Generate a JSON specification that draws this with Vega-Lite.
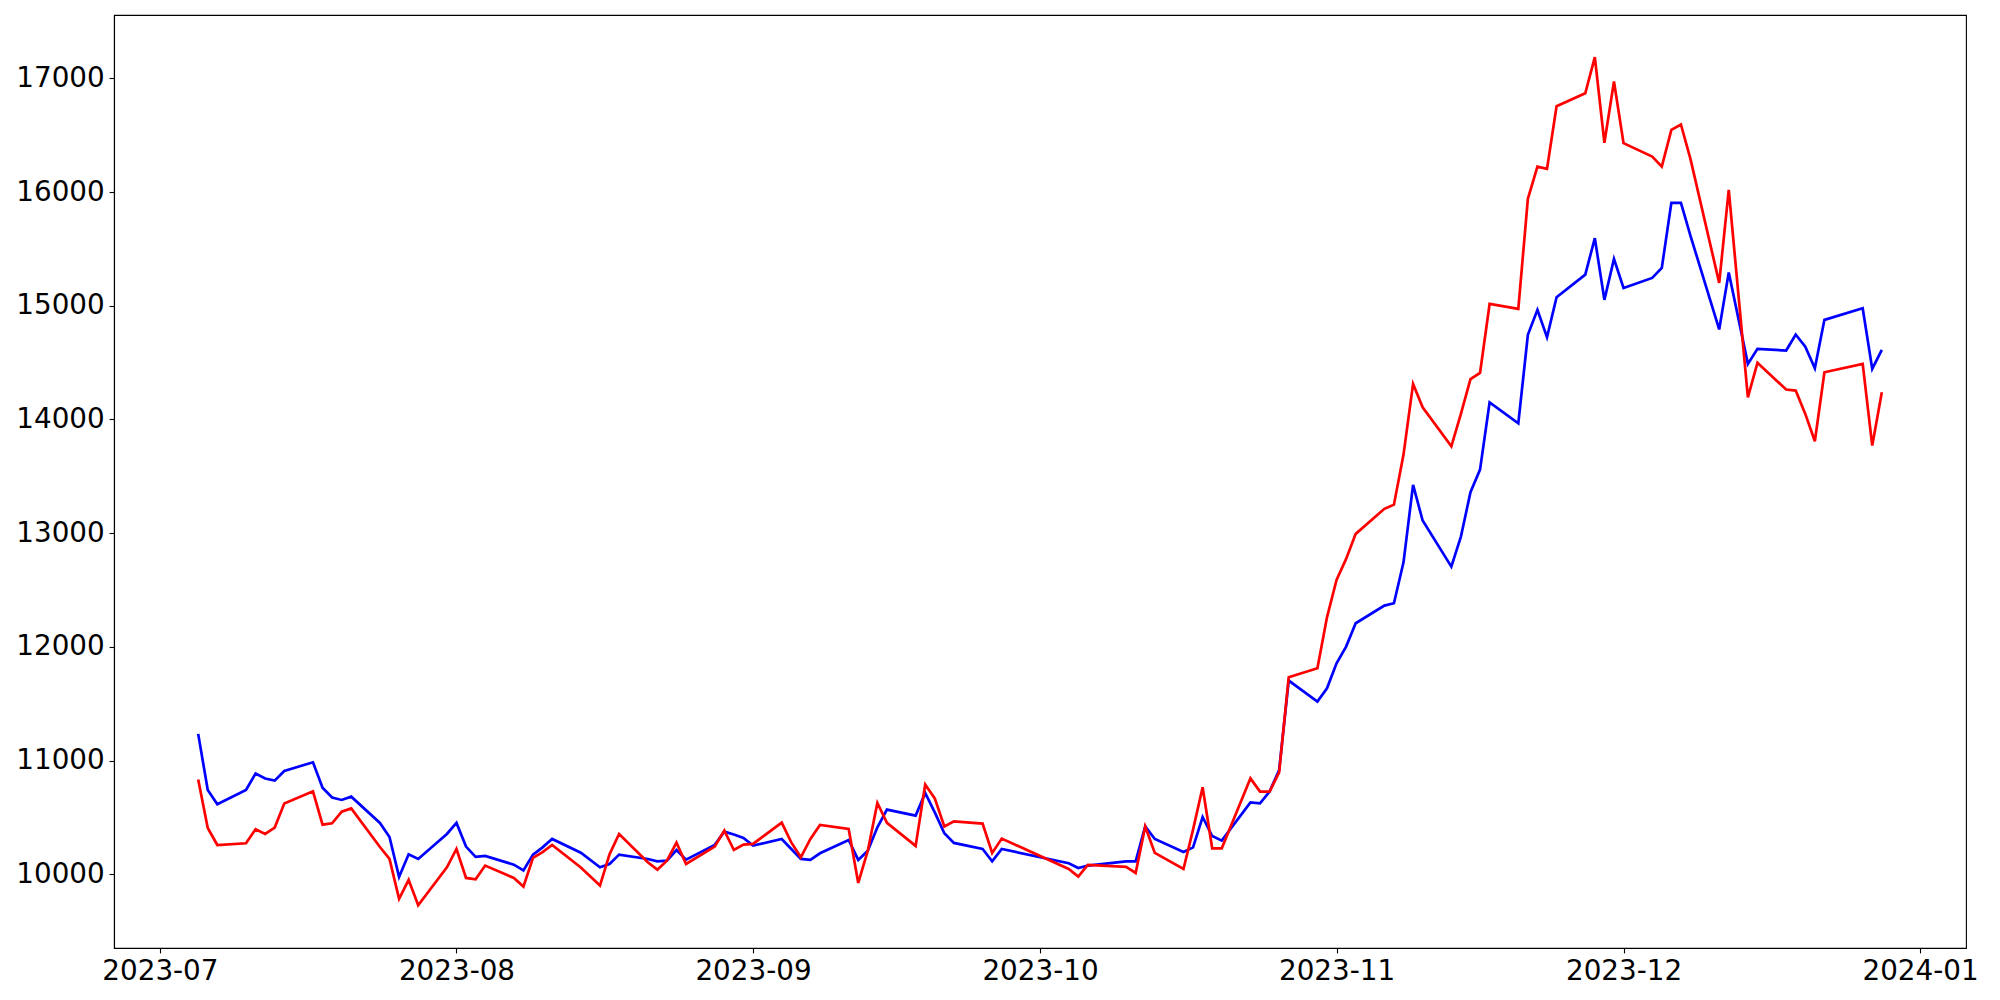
{
  "$schema": "https://vega.github.io/schema/vega-lite/v6.json",
  "width": 1852,
  "height": 933,
  "autosize": {"type": "none"},
  "padding": {"left": 114, "top": 15, "right": 34, "bottom": 52},
  "background": "white",
  "config": {
    "view": {"stroke": "black", "strokeWidth": 1.1},
    "axis": {
      "labelFont": "DejaVu Sans",
      "labelFontSize": 27.8,
      "labelColor": "black",
      "tickColor": "black",
      "tickSize": 4.9,
      "tickWidth": 1.1,
      "domainColor": "black",
      "domainWidth": 1.1,
      "labelPadding": 4.9,
      "grid": false,
      "title": null
    }
  },
  "data": {
    "values": [
      {"date": "2023-07-05", "red": 10833, "blue": 11235},
      {"date": "2023-07-06", "red": 10408, "blue": 10742},
      {"date": "2023-07-07", "red": 10258, "blue": 10616},
      {"date": "2023-07-10", "red": 10273, "blue": 10742},
      {"date": "2023-07-11", "red": 10396, "blue": 10886},
      {"date": "2023-07-12", "red": 10355, "blue": 10842},
      {"date": "2023-07-13", "red": 10411, "blue": 10824},
      {"date": "2023-07-14", "red": 10622, "blue": 10909},
      {"date": "2023-07-17", "red": 10730, "blue": 10985},
      {"date": "2023-07-18", "red": 10437, "blue": 10762},
      {"date": "2023-07-19", "red": 10449, "blue": 10675},
      {"date": "2023-07-20", "red": 10551, "blue": 10654},
      {"date": "2023-07-21", "red": 10580, "blue": 10683},
      {"date": "2023-07-24", "red": 10240, "blue": 10452},
      {"date": "2023-07-25", "red": 10135, "blue": 10328},
      {"date": "2023-07-26", "red": 9785, "blue": 9977},
      {"date": "2023-07-27", "red": 9951, "blue": 10176},
      {"date": "2023-07-28", "red": 9728, "blue": 10135},
      {"date": "2023-07-31", "red": 10062, "blue": 10355},
      {"date": "2023-08-01", "red": 10223, "blue": 10452},
      {"date": "2023-08-02", "red": 9968, "blue": 10244},
      {"date": "2023-08-03", "red": 9956, "blue": 10153},
      {"date": "2023-08-04", "red": 10077, "blue": 10162},
      {"date": "2023-08-07", "red": 9968, "blue": 10085},
      {"date": "2023-08-08", "red": 9892, "blue": 10035},
      {"date": "2023-08-09", "red": 10144, "blue": 10173},
      {"date": "2023-08-10", "red": 10195, "blue": 10237},
      {"date": "2023-08-11", "red": 10259, "blue": 10311},
      {"date": "2023-08-14", "red": 10060, "blue": 10190},
      {"date": "2023-08-16", "red": 9901, "blue": 10062},
      {"date": "2023-08-17", "red": 10176, "blue": 10091},
      {"date": "2023-08-18", "red": 10355, "blue": 10173},
      {"date": "2023-08-21", "red": 10106, "blue": 10135},
      {"date": "2023-08-22", "red": 10041, "blue": 10114},
      {"date": "2023-08-23", "red": 10120, "blue": 10120},
      {"date": "2023-08-24", "red": 10279, "blue": 10214},
      {"date": "2023-08-25", "red": 10091, "blue": 10129},
      {"date": "2023-08-28", "red": 10244, "blue": 10259},
      {"date": "2023-08-29", "red": 10384, "blue": 10375},
      {"date": "2023-08-30", "red": 10214, "blue": 10350},
      {"date": "2023-08-31", "red": 10261, "blue": 10320},
      {"date": "2023-09-01", "red": 10267, "blue": 10252},
      {"date": "2023-09-04", "red": 10455, "blue": 10311},
      {"date": "2023-09-05", "red": 10281, "blue": 10223},
      {"date": "2023-09-06", "red": 10150, "blue": 10135},
      {"date": "2023-09-07", "red": 10311, "blue": 10127},
      {"date": "2023-09-08", "red": 10434, "blue": 10185},
      {"date": "2023-09-11", "red": 10399, "blue": 10302},
      {"date": "2023-09-12", "red": 9924, "blue": 10127},
      {"date": "2023-09-13", "red": 10208, "blue": 10208},
      {"date": "2023-09-14", "red": 10628, "blue": 10413},
      {"date": "2023-09-15", "red": 10452, "blue": 10569},
      {"date": "2023-09-18", "red": 10250, "blue": 10516},
      {"date": "2023-09-19", "red": 10789, "blue": 10716},
      {"date": "2023-09-20", "red": 10668, "blue": 10545},
      {"date": "2023-09-21", "red": 10420, "blue": 10361},
      {"date": "2023-09-22", "red": 10466, "blue": 10276},
      {"date": "2023-09-25", "red": 10446, "blue": 10223},
      {"date": "2023-09-26", "red": 10188, "blue": 10114},
      {"date": "2023-09-27", "red": 10314, "blue": 10223},
      {"date": "2023-10-04", "red": 10047, "blue": 10097},
      {"date": "2023-10-05", "red": 9980, "blue": 10056},
      {"date": "2023-10-06", "red": 10082, "blue": 10077},
      {"date": "2023-10-10", "red": 10065, "blue": 10114},
      {"date": "2023-10-11", "red": 10012, "blue": 10114},
      {"date": "2023-10-12", "red": 10420, "blue": 10422},
      {"date": "2023-10-13", "red": 10188, "blue": 10311},
      {"date": "2023-10-16", "red": 10047, "blue": 10197},
      {"date": "2023-10-17", "red": 10393, "blue": 10237},
      {"date": "2023-10-18", "red": 10765, "blue": 10504},
      {"date": "2023-10-19", "red": 10229, "blue": 10337},
      {"date": "2023-10-20", "red": 10229, "blue": 10296},
      {"date": "2023-10-23", "red": 10844, "blue": 10633},
      {"date": "2023-10-24", "red": 10727, "blue": 10624},
      {"date": "2023-10-25", "red": 10727, "blue": 10727},
      {"date": "2023-10-26", "red": 10897, "blue": 10918},
      {"date": "2023-10-27", "red": 11733, "blue": 11704},
      {"date": "2023-10-30", "red": 11812, "blue": 11519},
      {"date": "2023-10-31", "red": 12260, "blue": 11636},
      {"date": "2023-11-01", "red": 12589, "blue": 11856},
      {"date": "2023-11-02", "red": 12774, "blue": 12003},
      {"date": "2023-11-03", "red": 12994, "blue": 12208},
      {"date": "2023-11-06", "red": 13214, "blue": 12363},
      {"date": "2023-11-07", "red": 13251, "blue": 12384},
      {"date": "2023-11-08", "red": 13691, "blue": 12744},
      {"date": "2023-11-09", "red": 14313, "blue": 13425},
      {"date": "2023-11-10", "red": 14107, "blue": 13111},
      {"date": "2023-11-13", "red": 13764, "blue": 12706},
      {"date": "2023-11-14", "red": 14050, "blue": 12970},
      {"date": "2023-11-15", "red": 14354, "blue": 13360},
      {"date": "2023-11-16", "red": 14410, "blue": 13559},
      {"date": "2023-11-17", "red": 15016, "blue": 14151},
      {"date": "2023-11-20", "red": 14972, "blue": 13966},
      {"date": "2023-11-21", "red": 15940, "blue": 14745},
      {"date": "2023-11-22", "red": 16224, "blue": 14964},
      {"date": "2023-11-23", "red": 16204, "blue": 14723},
      {"date": "2023-11-24", "red": 16755, "blue": 15075},
      {"date": "2023-11-27", "red": 16869, "blue": 15274},
      {"date": "2023-11-28", "red": 17186, "blue": 15594},
      {"date": "2023-11-29", "red": 16433, "blue": 15052},
      {"date": "2023-11-30", "red": 16972, "blue": 15412},
      {"date": "2023-12-01", "red": 16430, "blue": 15157},
      {"date": "2023-12-04", "red": 16312, "blue": 15245},
      {"date": "2023-12-05", "red": 16224, "blue": 15333},
      {"date": "2023-12-06", "red": 16547, "blue": 15905},
      {"date": "2023-12-07", "red": 16594, "blue": 15905},
      {"date": "2023-12-08", "red": 16290, "blue": 15615},
      {"date": "2023-12-11", "red": 15201, "blue": 14792},
      {"date": "2023-12-12", "red": 16019, "blue": 15292},
      {"date": "2023-12-14", "red": 14195, "blue": 14489},
      {"date": "2023-12-15", "red": 14498, "blue": 14621},
      {"date": "2023-12-18", "red": 14263, "blue": 14606},
      {"date": "2023-12-19", "red": 14254, "blue": 14747},
      {"date": "2023-12-20", "red": 14049, "blue": 14641},
      {"date": "2023-12-21", "red": 13808, "blue": 14450},
      {"date": "2023-12-22", "red": 14415, "blue": 14876},
      {"date": "2023-12-26", "red": 14489, "blue": 14978},
      {"date": "2023-12-27", "red": 13770, "blue": 14445},
      {"date": "2023-12-28", "red": 14239, "blue": 14612}
    ]
  },
  "encoding": {
    "x": {
      "field": "date",
      "type": "temporal",
      "scale": {
        "type": "utc",
        "domain": [
          {"year": 2023, "month": 6, "date": 26, "hours": 4, "minutes": 48, "utc": true},
          {"year": 2024, "month": 1, "date": 5, "hours": 19, "minutes": 12, "utc": true}
        ],
        "nice": false
      },
      "axis": {
        "values": [
          {"year": 2023, "month": 7, "date": 1, "utc": true},
          {"year": 2023, "month": 8, "date": 1, "utc": true},
          {"year": 2023, "month": 9, "date": 1, "utc": true},
          {"year": 2023, "month": 10, "date": 1, "utc": true},
          {"year": 2023, "month": 11, "date": 1, "utc": true},
          {"year": 2023, "month": 12, "date": 1, "utc": true},
          {"year": 2024, "month": 1, "date": 1, "utc": true}
        ],
        "labelExpr": "utcFormat(datum.value, '%Y-%m')",
        "labelFlush": false,
        "labelOverlap": false
      }
    }
  },
  "layer": [
    {
      "mark": {"type": "line", "color": "#0000ff", "strokeWidth": 2.7, "clip": true},
      "encoding": {
        "y": {
          "field": "blue",
          "type": "quantitative",
          "scale": {"domain": [9352, 17557], "nice": false, "zero": false},
          "axis": {
            "values": [10000, 11000, 12000, 13000, 14000, 15000, 16000, 17000],
            "format": "d",
            "labelFlush": false,
            "labelOverlap": false
          }
        }
      }
    },
    {
      "mark": {"type": "line", "color": "#ff0000", "strokeWidth": 2.7, "clip": true},
      "encoding": {
        "y": {"field": "red", "type": "quantitative"}
      }
    }
  ]
}
